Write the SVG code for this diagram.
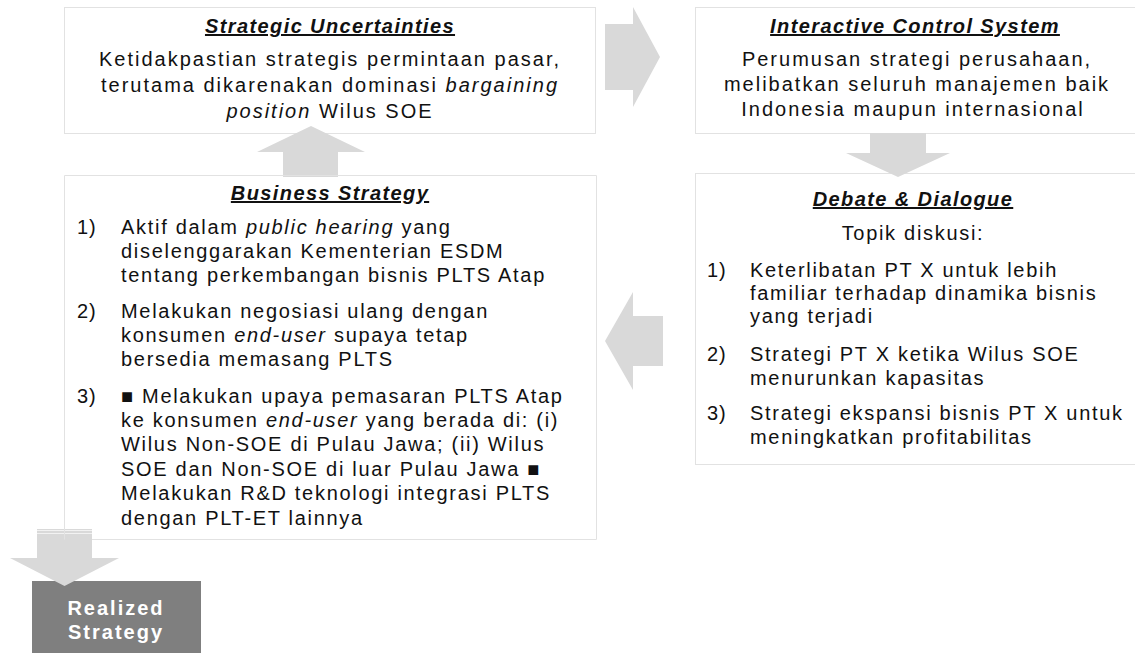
<svg xmlns="http://www.w3.org/2000/svg" width="1135" height="653" viewBox="0 0 1135 653">
  <style>
    .box { fill: #ffffff; stroke: #e2e2e2; stroke-width: 1; }
    .edge { fill: none; stroke: #e2e2e2; stroke-width: 1; }
    .arrow { fill: #d9d9d9; stroke: none; }
    text { font-family: "Liberation Sans", Arial, sans-serif; font-size: 20px; fill: #111111; letter-spacing: 1.7px; }
    .title { font-weight: bold; font-style: italic; text-decoration: underline; letter-spacing: 1.4px; }
    .c { text-anchor: middle; }
    .w { letter-spacing: 2px; }
    .i { font-style: italic; }
    .num { letter-spacing: 1px; }
    .realized { fill: #ffffff; font-weight: bold; letter-spacing: 2px; }
  </style>

  <rect width="1135" height="653" fill="#ffffff"/>

  <g id="strategic-uncertainties">
    <rect class="box" x="64.5" y="7.5" width="531" height="126"/>
    <text class="title c" x="330" y="33">Strategic Uncertainties</text>
    <text class="c w" x="330" y="66">Ketidakpastian strategis permintaan pasar,</text>
    <text class="c w" x="330" y="92">terutama dikarenakan dominasi <tspan class="i">bargaining</tspan></text>
    <text class="c w" x="330" y="118"><tspan class="i">position</tspan> Wilus SOE</text>
  </g>

  <g id="interactive-control-system">
    <rect class="box" x="695.5" y="7.5" width="460" height="126"/>
    <text class="title c" x="915" y="33">Interactive Control System</text>
    <text class="c w" x="917" y="66">Perumusan strategi perusahaan,</text>
    <text class="c w" x="917" y="91">melibatkan seluruh manajemen baik</text>
    <text class="c w" x="913" y="116">Indonesia maupun internasional</text>
  </g>

  <g id="debate-dialogue">
    <rect class="box" x="695.5" y="173.5" width="460" height="291"/>
    <text class="title c" x="913" y="206">Debate &amp; Dialogue</text>
    <text class="c" x="913" y="240">Topik diskusi:</text>
    <text class="num" x="707" y="277">1)</text>
    <text x="750" y="277">Keterlibatan PT X untuk lebih</text>
    <text x="750" y="300">familiar terhadap dinamika bisnis</text>
    <text x="750" y="323">yang terjadi</text>
    <text class="num" x="707" y="361">2)</text>
    <text x="750" y="361">Strategi PT X ketika Wilus SOE</text>
    <text x="750" y="385">menurunkan kapasitas</text>
    <text class="num" x="707" y="420">3)</text>
    <text x="750" y="420" letter-spacing="1.4">Strategi ekspansi bisnis PT X untuk</text>
    <text x="750" y="444">meningkatkan profitabilitas</text>
  </g>

  <g id="realized-strategy">
    <rect x="32" y="581" width="169" height="80" fill="#7f7f7f"/>
    <text class="realized c" x="116" y="615">Realized</text>
    <text class="realized c" x="116" y="639">Strategy</text>
  </g>

  <g id="connectors">
    <!-- uncertainties to control system -->
    <polygon class="arrow" points="605,24 633,24 633,7 660,57 633,107 633,90 605,90"/>
    <!-- control system down to debate -->
    <polygon class="arrow" points="870,133 926,133 926,153 950,153 898,177 846,153 870,153"/>
    <!-- debate back to business strategy -->
    <polygon class="arrow" points="663,316 633,316 633,292 605,341 633,390 633,366 663,366"/>
    <!-- business strategy up to uncertainties -->
    <polygon class="arrow" points="283,177 338,177 338,152 365,152 311,126 257,152 283,152"/>
    <!-- business strategy down to realized strategy -->
    <polygon class="arrow" points="37,529 92,529 92,558 119,558 64.5,586 10,558 37,558"/>
    <path d="M37 530.5H92M37 533.5H92" stroke="#f2f2f2" stroke-width="1" fill="none"/>
  </g>

  <g id="business-strategy">
    <path class="edge" d="M92 539.5H596.5V175.5H64.5V539.5"/>
    <text class="title c" x="330" y="200">Business Strategy</text>
    <text class="num" x="77" y="234">1)</text>
    <text x="121" y="234">Aktif dalam <tspan class="i">public hearing</tspan> yang</text>
    <text x="121" y="258">diselenggarakan Kementerian ESDM</text>
    <text x="121" y="282">tentang perkembangan bisnis PLTS Atap</text>
    <text class="num" x="77" y="318">2)</text>
    <text x="121" y="318">Melakukan negosiasi ulang dengan</text>
    <text x="121" y="342">konsumen <tspan class="i">end-user</tspan> supaya tetap</text>
    <text x="121" y="366">bersedia memasang PLTS</text>
    <text class="num" x="77" y="403">3)</text>
    <text x="121" y="403" letter-spacing="1.9">■ Melakukan upaya pemasaran PLTS Atap</text>
    <text x="121" y="427">ke konsumen <tspan class="i">end-user</tspan> yang berada di: (i)</text>
    <text x="121" y="451">Wilus Non-SOE di Pulau Jawa; (ii) Wilus</text>
    <text x="121" y="476">SOE dan Non-SOE di luar Pulau Jawa ■</text>
    <text x="121" y="500">Melakukan R&amp;D teknologi integrasi PLTS</text>
    <text x="121" y="525">dengan PLT-ET lainnya</text>
  </g>
</svg>
